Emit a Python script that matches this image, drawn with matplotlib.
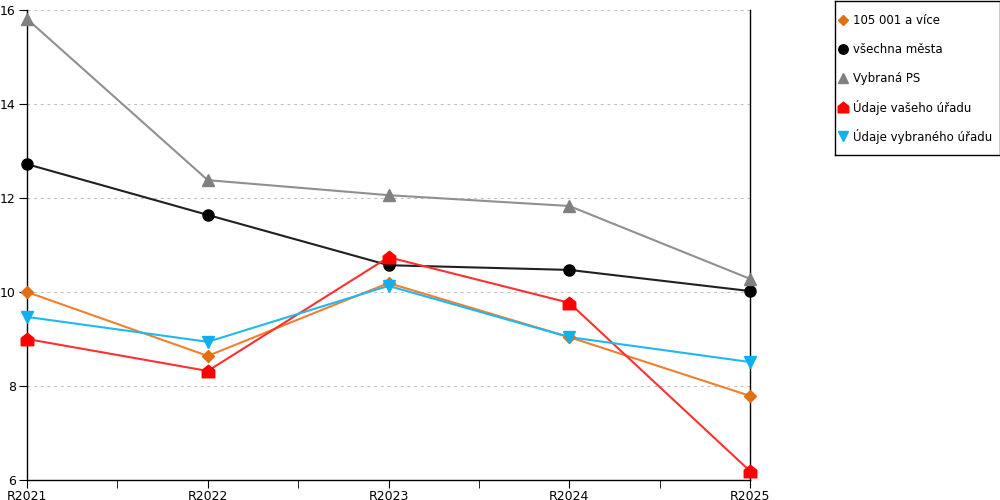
import matplotlib
matplotlib.use("Agg")
import matplotlib.pyplot as plt
from matplotlib.path import Path
import numpy as np

categories = ["R2021", "R2022", "R2023", "R2024", "R2025"]
s_105 = [10.00, 8.64, 10.19, 9.04, 7.79]
s_mesta = [12.72, 11.64, 10.57, 10.47, 10.02]
s_ps = [15.81, 12.38, 12.06, 11.83, 10.28]
s_vas = [9.00, 8.32, 10.74, 9.77, 6.19]
s_vyb = [9.47, 8.94, 10.13, 9.04, 8.51]
labels = ["105 001 a více", "všechna města", "Vybraná PS", "Údaje vašeho úřadu", "Údaje vybraného úřadu"]
yticks = [6, 8, 10, 12, 14, 16]

house = Path([(-1, -1), (1, -1), (1, 0.2), (0, 1), (-1, 0.2), (-1, -1)],
             [Path.MOVETO, Path.LINETO, Path.LINETO, Path.LINETO, Path.LINETO, Path.CLOSEPOLY])

plt.rcParams['font.family'] = ['DejaVu Sans']
fig = plt.figure(figsize=(10, 5), dpi=100)
ax = fig.add_axes([0.027, 0.04, 0.723, 0.94])
x = np.arange(len(categories))

series = [
    (s_105, "#E07010", "#F08030", "D", 6.5),
    (s_mesta, "#000000", "#202020", "o", 8),
    (s_ps, "#808080", "#909090", "^", 8.5),
    (s_vas, "#FF0000", "#FF3030", house, 9),
    (s_vyb, "#10B0F0", "#20B8F0", "v", 9),
]
for (vals, mc, lc, m, ms), lab in zip(series, labels):
    ax.plot(x, vals, color=lc, lw=1.5, zorder=2)
    ax.plot(x, vals, ls='none', marker=m, ms=ms, color=mc, mec=mc, zorder=3, clip_on=False, label=lab)

ax.set_xlim(0, len(categories) - 1)
ax.set_ylim(6, 16)
ax.set_yticks(yticks)
ax.set_xticks(x)
ax.set_xticklabels(categories)
ax.set_xticks(x[:-1] + 0.5, minor=True)
ax.grid(axis='y', ls=(0, (2.5, 3.5)), color='#c0c0c0', lw=0.8)
ax.spines['top'].set_visible(False)
for sp in ['left', 'bottom', 'right']:
    ax.spines[sp].set_color('black')
    ax.spines[sp].set_linewidth(1)
ax.tick_params(axis='both', which='both', labelsize=9, length=6, direction='out', pad=1, colors='black')
ax.tick_params(axis='y', pad=2)
ax.set_axisbelow(True)

# legend box drawn in its own pixel-scaled axes
lax = fig.add_axes([0.835, 0.69, 0.1645, 0.3075])
lax.set_xlim(0, 164.5)
lax.set_ylim(153.75, 0)
lax.set_xticks([])
lax.set_yticks([])
for sp in lax.spines.values():
    sp.set_color('black')
    sp.set_linewidth(1)
for i, ((vals, mc, lc, m, ms), lab) in enumerate(zip(series, labels)):
    yy = 19 + 29 * i
    lax.plot([8], [yy], ls='none', marker=m, ms=ms * 0.85, color=mc, mec=mc)
    lax.text(18, yy, lab, fontsize=8.5, va='center', ha='left', color='black')

fig.savefig("out.png", dpi=100, facecolor='white')
